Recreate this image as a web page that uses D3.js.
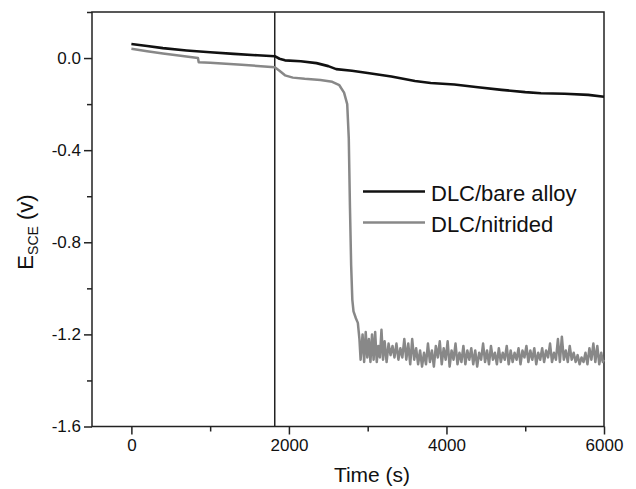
<!DOCTYPE html>
<html>
<head>
<meta charset="utf-8">
<script src="https://cdn.jsdelivr.net/npm/d3@7"></script>
<style>
  body { margin: 0; background: #fff; }
  text { font-family: Arial, "Liberation Sans", sans-serif; fill: #111; }
</style>
</head>
<body>
<svg id="chart" width="636" height="489"></svg>
<script>
// values
var xTicks = [0, 2000, 4000, 6000];
var yTicks = [0.0, -0.4, -0.8, -1.2, -1.6];
var markerTime = 1820;

var bareTime = [0, 200, 400, 700, 1000, 1300, 1600, 1820, 1880, 1950, 2150, 2350, 2500, 2600, 2800, 3000,
  3300, 3600, 3800, 4100, 4400, 4700, 5000, 5200, 5500, 5800, 6000];
var bareE = [0.061, 0.052, 0.043, 0.033, 0.025, 0.018, 0.012, 0.008, -0.003, -0.010, -0.014, -0.022, -0.035, -0.048, -0.055, -0.065,
  -0.080, -0.100, -0.108, -0.115, -0.127, -0.138, -0.148, -0.153, -0.155, -0.160, -0.168];

var nitTime = [0, 200, 400, 600, 845, 855, 1000, 1200, 1400, 1600, 1820, 1880, 1950, 2050, 2200, 2400, 2550, 2640, 2700,
  2740, 2760, 2775, 2790, 2805, 2820, 2850, 2875, 2895,
  2910, 2935, 2955, 2975, 2995, 3015, 3035, 3055, 3075, 3095, 3115, 3135, 3155, 3175, 3195, 3215, 3240, 3265, 3290, 3315,
  3340, 3365, 3390, 3415, 3440, 3465, 3490, 3515, 3540, 3565, 3590, 3615, 3640, 3665, 3690, 3715, 3740, 3765, 3790, 3815,
  3840, 3865, 3890, 3915, 3940, 3965, 3990, 4015, 4040, 4065, 4090, 4115, 4140, 4165, 4190, 4215, 4240, 4265, 4290, 4315,
  4340, 4365, 4390, 4415, 4440, 4465, 4490, 4515, 4540, 4565, 4590, 4615, 4640, 4665, 4690, 4715, 4740, 4765, 4790, 4815,
  4840, 4865, 4890, 4915, 4940, 4965, 4990, 5015, 5040, 5065, 5090, 5115, 5140, 5165, 5190, 5215, 5240, 5265, 5290, 5315,
  5340, 5365, 5390, 5415, 5440, 5465, 5490, 5515, 5540, 5565, 5590, 5615, 5640, 5665, 5690, 5715, 5740, 5765, 5790, 5815,
  5840, 5865, 5890, 5915, 5940, 5965, 5985, 6000];
var nitE = [0.040, 0.030, 0.020, 0.011, 0.000, -0.018, -0.020, -0.025, -0.029, -0.034, -0.040, -0.055, -0.075, -0.085, -0.090, -0.095, -0.103, -0.118, -0.150,
  -0.200, -0.350, -0.650, -0.900, -1.050, -1.100, -1.130, -1.150, -1.220,
  -1.31, -1.20, -1.32, -1.19, -1.30, -1.22, -1.32, -1.20, -1.31, -1.19, -1.32, -1.25, -1.30, -1.18, -1.31, -1.23, -1.32, -1.24, -1.29, -1.25,
  -1.30, -1.24, -1.31, -1.26, -1.30, -1.22, -1.31, -1.24, -1.33, -1.22, -1.31, -1.26, -1.33, -1.27, -1.34, -1.28, -1.33, -1.24, -1.32, -1.27,
  -1.34, -1.25, -1.30, -1.23, -1.33, -1.26, -1.31, -1.23, -1.34, -1.27, -1.31, -1.24, -1.33, -1.28, -1.32, -1.25, -1.33, -1.27, -1.31, -1.26,
  -1.33, -1.27, -1.34, -1.28, -1.31, -1.24, -1.32, -1.27, -1.33, -1.25, -1.31, -1.28, -1.33, -1.26, -1.32, -1.28, -1.31, -1.25, -1.33, -1.27,
  -1.32, -1.28, -1.31, -1.26, -1.33, -1.27, -1.30, -1.25, -1.32, -1.27, -1.31, -1.26, -1.33, -1.28, -1.31, -1.26, -1.32, -1.27, -1.30, -1.24,
  -1.32, -1.28, -1.31, -1.22, -1.32, -1.21, -1.31, -1.27, -1.32, -1.25, -1.31, -1.28, -1.32, -1.29, -1.33, -1.30, -1.32, -1.28, -1.33, -1.26,
  -1.31, -1.24, -1.32, -1.25, -1.33, -1.28, -1.32, -1.31];

var legendNames = ['DLC/bare alloy', 'DLC/nitrided'];
var colors = ['#111', '#888'];

var svg = d3.select('#chart');
var pLeft = 92, pTop = 12, pRight = 604, pBottom = 426.5;

var x = d3.scaleLinear().domain([-500, 6000]).range([pLeft, pRight]);
var y = d3.scaleLinear().domain([-1.6, 0.2]).range([pBottom, pTop]);

// minor ticks first
svg.append('g')
  .attr('transform', 'translate(0,' + pBottom + ')')
  .call(d3.axisBottom(x).tickValues([1000, 3000, 5000]).tickSize(5).tickFormat(''))
  .call(function(g) { g.select('.domain').remove(); });
svg.append('g')
  .attr('transform', 'translate(' + pLeft + ',0)')
  .call(d3.axisLeft(y).tickValues([0.2, -0.2, -0.6, -1.0, -1.4]).tickSize(5).tickFormat(''))
  .call(function(g) { g.select('.domain').remove(); });

var fmtY = d3.format('.1f');
var xAxis = svg.append('g')
  .attr('transform', 'translate(0,' + pBottom + ')')
  .call(d3.axisBottom(x).tickValues(xTicks).tickSize(8).tickPadding(4).tickFormat(d3.format('d')));
var yAxis = svg.append('g')
  .attr('transform', 'translate(' + pLeft + ',0)')
  .call(d3.axisLeft(y).tickValues(yTicks).tickSize(8).tickPadding(3)
    .tickFormat(function(d) { return fmtY(d).replace('\u2212', '-'); }));

[xAxis, yAxis].forEach(function(g) {
  g.select('.domain').remove();
  g.selectAll('text').style('font-size', '17px').style('font-family', 'Arial, "Liberation Sans", sans-serif').attr('fill', '#111');
});
svg.selectAll('.tick line').attr('stroke', '#222').attr('stroke-width', 1.5);

// frame
svg.append('rect')
  .attr('x', pLeft).attr('y', pTop)
  .attr('width', pRight - pLeft).attr('height', pBottom - pTop)
  .attr('fill', 'none').attr('stroke', '#222').attr('stroke-width', 1.5);

// marker line
svg.append('line')
  .attr('x1', x(markerTime)).attr('x2', x(markerTime))
  .attr('y1', pTop).attr('y2', pBottom)
  .attr('stroke', '#222').attr('stroke-width', 1.5);

var line = d3.line()
  .x(function(d) { return x(d[0]); })
  .y(function(d) { return y(d[1]); });

var nitData = d3.zip(nitTime, nitE);
var bareData = d3.zip(bareTime, bareE);

svg.append('path').datum(nitData)
  .attr('d', line).attr('fill', 'none')
  .attr('stroke', colors[1]).attr('stroke-width', 2.5).attr('stroke-linejoin', 'round');
svg.append('path').datum(bareData)
  .attr('d', line).attr('fill', 'none')
  .attr('stroke', colors[0]).attr('stroke-width', 2.6).attr('stroke-linejoin', 'round');

// legend
var leg = svg.append('g');
legendNames.forEach(function(name, i) {
  var ly = 191.5 + i * 31;
  leg.append('line')
    .attr('x1', 363).attr('x2', 425).attr('y1', ly).attr('y2', ly)
    .attr('stroke', colors[i]).attr('stroke-width', 2.6);
  leg.append('text')
    .attr('x', 431).attr('y', ly + 9)
    .style('font-size', '22px')
    .text(name);
});

// axis titles
svg.append('text')
  .attr('x', (pLeft + pRight) / 2 + 24).attr('y', 482)
  .attr('text-anchor', 'middle')
  .style('font-size', '21px')
  .text('Time (s)');

var yt = svg.append('text')
  .attr('transform', 'translate(33,232) rotate(-90)')
  .attr('text-anchor', 'middle')
  .style('font-size', '22px');
yt.append('tspan').text('E');
yt.append('tspan').attr('dy', 5).style('font-size', '14px').text('SCE');
yt.append('tspan').attr('dy', -5).text(' (v)');
</script>
</body>
</html>
